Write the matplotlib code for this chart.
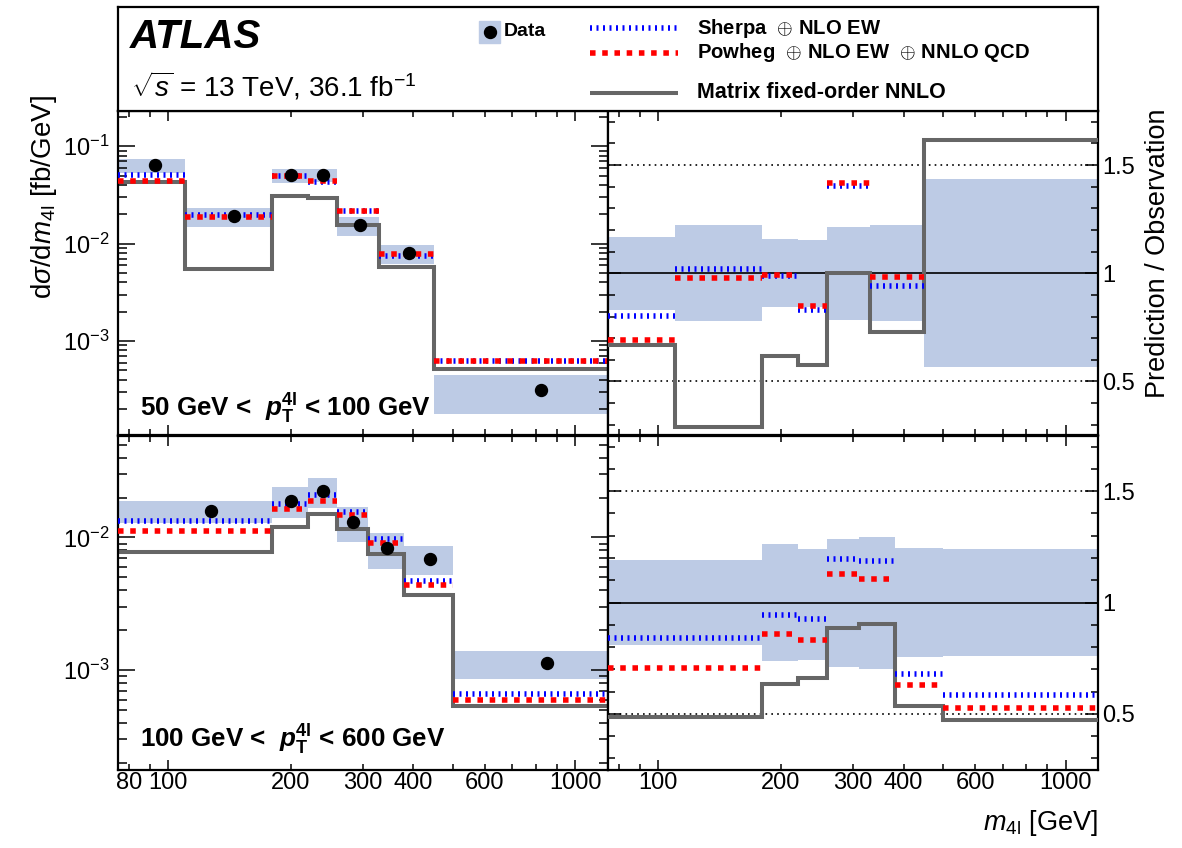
import numpy as np
import matplotlib
matplotlib.use('Agg')
import matplotlib.pyplot as plt
from matplotlib.ticker import FixedLocator, FuncFormatter, LogLocator, MultipleLocator, NullFormatter
from matplotlib.patches import Rectangle

plt.rcParams['font.family'] = ['Liberation Sans', 'DejaVu Sans']
plt.rcParams['mathtext.fontset'] = 'custom'
plt.rcParams['mathtext.rm'] = 'Liberation Sans'
plt.rcParams['mathtext.it'] = 'Liberation Sans:italic'
plt.rcParams['mathtext.bf'] = 'Liberation Sans:bold'
plt.rcParams['mathtext.bfit'] = 'Liberation Sans:italic:bold'

# m4l bin edges [GeV] for the two pT(4l) slices
edges_50_100 = [75, 110, 180, 220, 260, 330, 450, 1200]
edges_100_600 = [75, 180, 220, 260, 310, 380, 500, 1200]

# measured d(sigma)/d(m4l) [fb/GeV]
data_50_100 = [0.0637, 0.0191, 0.0502, 0.0511, 0.01535, 0.00794, 0.000315]
data_100_600 = [0.0159, 0.0189, 0.02254, 0.0131, 0.00827, 0.0069, 0.00113]

# data uncertainty band, relative (upper / lower)
unc_up_50_100 = [1.168, 1.225, 1.158, 1.155, 1.213, 1.225, 1.434]
unc_dn_50_100 = [0.831, 0.777, 0.844, 0.845, 0.785, 0.777, 0.568]
unc_up_100_600 = [1.191, 1.263, 1.240, 1.287, 1.296, 1.243, 1.239]
unc_dn_100_600 = [0.810, 0.736, 0.743, 0.710, 0.701, 0.755, 0.758]

# prediction / observation
sherpa_50_100 = [0.804, 1.020, 0.985, 0.831, 1.403, 0.943, 1.96]
powheg_50_100 = [0.693, 0.977, 0.990, 0.850, 1.419, 0.984, 1.98]
matrix_50_100 = [0.670, 0.287, 0.616, 0.575, 1.000, 0.729, 1.618]
sherpa_100_600 = [0.840, 0.945, 0.925, 1.194, 1.185, 0.681, 0.584]
powheg_100_600 = [0.704, 0.860, 0.833, 1.128, 1.107, 0.631, 0.527]
matrix_100_600 = [0.487, 0.636, 0.661, 0.884, 0.904, 0.537, 0.472]

xlabels = {80: '80', 100: '100', 200: '200', 300: '300', 400: '400', 600: '600', 1000: '1000'}

BAND = '#bdcbe5'
BLUE = '#0000ff'
RED = '#ff0000'
GREY = '#666666'
LW = 4.0
sherpa_ls = (0, (0.36, 0.81))
powheg_ls = (0, (1.0, 1.2))

W, H = 1182, 848
fig = plt.figure(figsize=(W / 100, H / 100), dpi=100)


def px_axes(x0, x1, y0, y1):
    return fig.add_axes([x0 / W, 1 - y1 / H, (x1 - x0) / W, (y1 - y0) / H])


def style(ax, ratio=False, xlab=True, first_label=True):
    for s in ax.spines.values():
        s.set_linewidth(1.6)
    ax.set_xscale('log')
    ax.set_xlim(75, 1200)
    ax.xaxis.set_major_locator(FixedLocator([100, 1000]))
    ax.xaxis.set_minor_locator(FixedLocator([80, 90, 200, 300, 400, 500, 600, 700, 800, 900]))
    if xlab:
        def f(v, p):
            v = int(round(v))
            if v == 80 and not first_label:
                return ''
            return xlabels.get(v, '')
        ax.xaxis.set_major_formatter(FuncFormatter(f))
        ax.xaxis.set_minor_formatter(FuncFormatter(f))
    else:
        ax.xaxis.set_major_formatter(NullFormatter())
        ax.xaxis.set_minor_formatter(NullFormatter())
    ax.tick_params(which='both', direction='in', top=True, right=True, width=1.1, labelsize=17)
    ax.tick_params(axis='x', which='major', length=7.5, pad=2)
    ax.tick_params(axis='x', which='minor', length=4, pad=2)
    if ratio:
        ax.set_ylim(0.25, 1.75)
        ax.yaxis.set_major_locator(FixedLocator([0.5, 1.0, 1.5]))
        ax.yaxis.set_minor_locator(MultipleLocator(0.1))
        ax.yaxis.set_major_formatter(FuncFormatter(lambda v, p: '%g' % v))
        ax.tick_params(axis='y', which='major', length=9.5, pad=3, labelleft=False, labelright=True)
        ax.tick_params(axis='y', which='minor', length=5)
    else:
        ax.set_yscale('log')
        ax.yaxis.set_minor_locator(LogLocator(base=10, subs=np.arange(2, 10)))
        ax.yaxis.set_minor_formatter(NullFormatter())
        ax.tick_params(axis='y', which='major', length=12.5, pad=6)
        ax.tick_params(axis='y', which='minor', length=6.5)


def draw_xsec(ax, edges, data, up, dn, sherpa, powheg, matrix):
    e = np.array(edges, float)
    lo, hi = e[:-1], e[1:]
    d = np.array(data)
    ax.bar(lo, d * (np.array(up) - np.array(dn)), width=hi - lo, bottom=d * np.array(dn),
           align='edge', color=BAND, linewidth=0, zorder=1)
    ax.stairs(d * np.array(matrix), e, baseline=None, color=GREY, lw=2.9, zorder=2)
    ax.hlines(d * np.array(sherpa), lo, hi, colors=BLUE, linestyles=sherpa_ls,
              linewidth=LW, capstyle='butt', zorder=3)
    ax.hlines(d * np.array(powheg), lo, hi, colors=RED, linestyles=powheg_ls,
              linewidth=LW, capstyle='butt', zorder=4)
    ax.plot((lo + hi) / 2, d, 'o', color='k', ms=8.6, zorder=5)


def draw_ratio(ax, edges, up, dn, sherpa, powheg, matrix):
    e = np.array(edges, float)
    lo, hi = e[:-1], e[1:]
    ax.bar(lo, np.array(up) - np.array(dn), width=hi - lo, bottom=dn,
           align='edge', color=BAND, linewidth=0, zorder=1)
    ax.axhline(1.0, color='k', lw=1.2, zorder=2)
    for r in (0.5, 1.5):
        ax.axhline(r, color='k', lw=1.2, ls=(0, (1, 2.5)), zorder=2)
    ax.stairs(matrix, e, baseline=None, color=GREY, lw=2.9, zorder=3)
    ax.hlines(sherpa, lo, hi, colors=BLUE, linestyles=sherpa_ls,
              linewidth=LW, capstyle='butt', zorder=4)
    ax.hlines(powheg, lo, hi, colors=RED, linestyles=powheg_ls,
              linewidth=LW, capstyle='butt', zorder=5)


XL, XM, XR = 117.5, 607.5, 1098
YT, YM, YB = 111, 435.5, 769.5

ax1 = px_axes(XL, XM, YT, YM)
ax2 = px_axes(XM, XR, YT, YM)
ax3 = px_axes(XL, XM, YM, YB)
ax4 = px_axes(XM, XR, YM, YB)

draw_xsec(ax1, edges_50_100, data_50_100, unc_up_50_100, unc_dn_50_100,
          sherpa_50_100, powheg_50_100, matrix_50_100)
draw_xsec(ax3, edges_100_600, data_100_600, unc_up_100_600, unc_dn_100_600,
          sherpa_100_600, powheg_100_600, matrix_100_600)
draw_ratio(ax2, edges_50_100, unc_up_50_100, unc_dn_50_100,
           sherpa_50_100, powheg_50_100, matrix_50_100)
draw_ratio(ax4, edges_100_600, unc_up_100_600, unc_dn_100_600,
           sherpa_100_600, powheg_100_600, matrix_100_600)

style(ax1, xlab=False)
style(ax3)
style(ax2, ratio=True, xlab=False)
style(ax4, ratio=True, first_label=False)
ax1.set_ylim(1.07e-4, 0.23)
ax3.set_ylim(1.78e-4, 0.0587)

ax1.text(0.046, 0.06, r'50 GeV <  $\mathbfit{p}_{\mathbf{T}}^{\mathbf{4l}}$ < 100 GeV',
         transform=ax1.transAxes, fontsize=18.7, fontweight='bold', va='baseline')
ax3.text(0.046, 0.068, r'100 GeV <  $\mathbfit{p}_{\mathbf{T}}^{\mathbf{4l}}$ < 600 GeV',
         transform=ax3.transAxes, fontsize=18.7, fontweight='bold', va='baseline')

fig.text(44 / W, 1 - 95 / H, r'd$\sigma$/d$m_{4\mathrm{l}}$ [fb/GeV]', rotation=90,
         fontsize=20, ha='center', va='top')
fig.text(1158 / W, 1 - 398 / H, 'Prediction / Observation', rotation=90,
         fontsize=19.5, ha='center', va='bottom')
fig.text(XR / W, 1 - 830 / H, r'$m_{4\mathrm{l}}$ [GeV]', fontsize=19.5, ha='right', va='baseline')

# header box with ATLAS label and legend, drawn in pixel coordinates
hd = px_axes(XL, XR, 7, YT)
hd.set_xlim(XL, XR)
hd.set_ylim(YT, 7)
hd.set_xticks([])
hd.set_yticks([])
for s in hd.spines.values():
    s.set_linewidth(1.6)

hd.text(130, 48, 'ATLAS', fontsize=29, fontweight='bold', style='italic', va='baseline')
hd.text(131, 96, r'$\sqrt{s}$ = 13 TeV, 36.1 fb$^{-1}$', fontsize=20, va='baseline')

hd.add_patch(Rectangle((479, 21), 21, 22, color=BAND))
hd.plot([489.5], [32], 'o', color='k', ms=8.6)
hd.text(504, 32, 'Data', fontsize=14, fontweight='bold', va='center')

hd.hlines([28], 590, 678, colors=BLUE, linestyles=sherpa_ls, linewidth=LW, capstyle='butt')
hd.hlines([53], 590, 678, colors=RED, linestyles=powheg_ls, linewidth=LW, capstyle='butt')
hd.plot([590, 678], [93, 93], color=GREY, lw=2.9, solid_capstyle='butt')
hd.text(697, 28, r'Sherpa  $\oplus$ NLO EW', fontsize=14.6, fontweight='bold', va='center')
hd.text(697, 53, r'Powheg  $\oplus$ NLO EW  $\oplus$ NNLO QCD', fontsize=14.6, fontweight='bold', va='center')
hd.text(697, 92, 'Matrix fixed-order NNLO', fontsize=15.5, fontweight='bold', va='center')

fig.savefig('out.png', dpi=100)
